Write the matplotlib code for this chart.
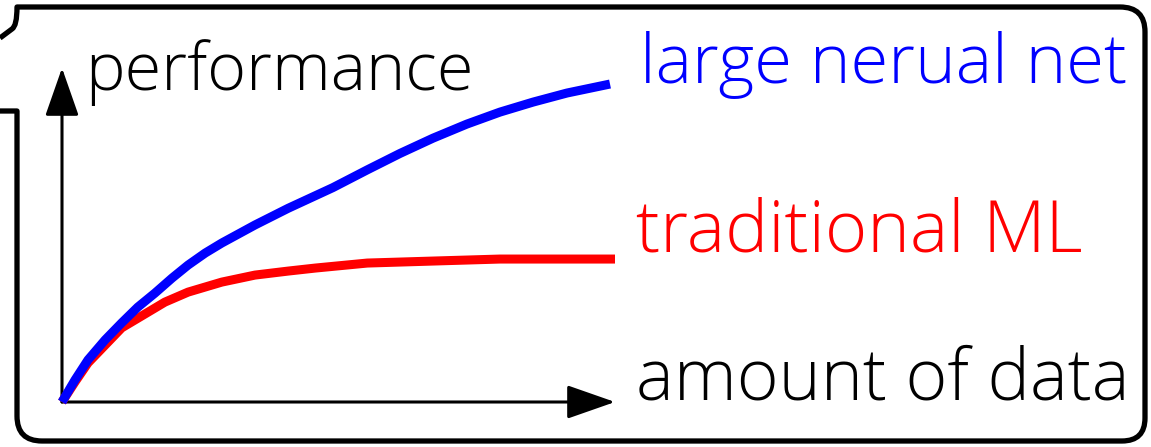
import numpy as np
import matplotlib.pyplot as plt
from matplotlib.path import Path
from matplotlib.patches import PathPatch

# amount of data (x) vs performance (y), arbitrary units 0..10
data_x_nn = [0, 0.235, 0.47, 0.78, 1.08, 1.37, 1.68, 1.99, 2.28, 2.59, 2.89,
             3.49, 4.09, 4.90, 5.52, 6.11, 6.71, 7.32, 7.92, 8.52, 9.13, 9.91]
perf_nn = [0, 0.66, 1.26, 1.86, 2.37, 2.84, 3.26, 3.71, 4.10, 4.46, 4.76,
           5.30, 5.80, 6.42, 6.95, 7.44, 7.90, 8.32, 8.68, 8.98, 9.25, 9.52]

data_x_ml = [0, 0.235, 0.47, 1.08, 1.86, 2.28, 2.89, 3.49, 4.09, 4.58,
             5.52, 6.71, 7.92, 9.13, 10.0]
perf_ml = [0, 0.60, 1.17, 2.22, 2.99, 3.29, 3.59, 3.80, 3.92, 4.01,
           4.16, 4.22, 4.28, 4.28, 4.28]

label_nn = "large nerual net"
label_ml = "traditional ML"
xlabel = "amount of data"
ylabel = "performance"

W, H = 1151, 447
fig = plt.figure(figsize=(W / 100, H / 100), dpi=100)

# speech bubble style border, in pixel coords
deco = fig.add_axes([0, 0, 1, 1])
deco.set_xlim(0, W)
deco.set_ylim(H, 0)
deco.axis("off")
verts = [(0, 38), (12, 29),
         (17, 26), (17, 7), (40, 7),
         (1120, 7),
         (1145, 7), (1145, 32),
         (1145, 418),
         (1145, 441), (1122, 441),
         (42, 441),
         (17, 441), (17, 416),
         (17, 111), (0, 111)]
codes = [Path.MOVETO, Path.LINETO,
         Path.CURVE3, Path.CURVE3, Path.LINETO,
         Path.LINETO,
         Path.CURVE3, Path.CURVE3,
         Path.LINETO,
         Path.CURVE3, Path.CURVE3,
         Path.LINETO,
         Path.CURVE3, Path.CURVE3,
         Path.LINETO, Path.LINETO]
deco.add_patch(PathPatch(Path(verts, codes), facecolor="none",
                         edgecolor="black", lw=3.8, capstyle="butt",
                         joinstyle="round"))

x0, y0, x1, y1 = 62, 402, 615, 68
ax = fig.add_axes([x0 / W, (H - y0) / H, (x1 - x0) / W, (y0 - y1) / H])
ax.set_xlim(0, 10)
ax.set_ylim(0, 10)
ax.axis("off")

arrow = dict(arrowstyle="-|>,head_length=1.0,head_width=0.35",
             mutation_scale=30, lw=2.2, color="black",
             shrinkA=0, shrinkB=0)
ax.annotate("", xy=(10, 0), xytext=(0, 0), arrowprops=arrow,
            annotation_clip=False)
ax.annotate("", xy=(0, 10), xytext=(0, 0), arrowprops=arrow,
            annotation_clip=False)

ax.plot(data_x_ml, perf_ml, color="red", lw=6.5, solid_joinstyle="round",
        solid_capstyle="butt", clip_on=False, zorder=3)
ax.plot(data_x_nn, perf_nn, color="blue", lw=6.5, solid_joinstyle="round",
        solid_capstyle="butt", clip_on=False, zorder=4)

font = dict(family="Open Sans", weight="light", ha="left", va="baseline")
fig.text(85 / W, 1 - 90 / H, ylabel, color="black", size=48, **font)
fig.text(640 / W, 1 - 83 / H, label_nn, color="blue", size=49.5, **font)
fig.text(636 / W, 1 - 251 / H, label_ml, color="red", size=52, **font)
fig.text(636 / W, 1 - 400 / H, xlabel, color="black", size=51.5, **font)

fig.savefig("out.png", dpi=100)
